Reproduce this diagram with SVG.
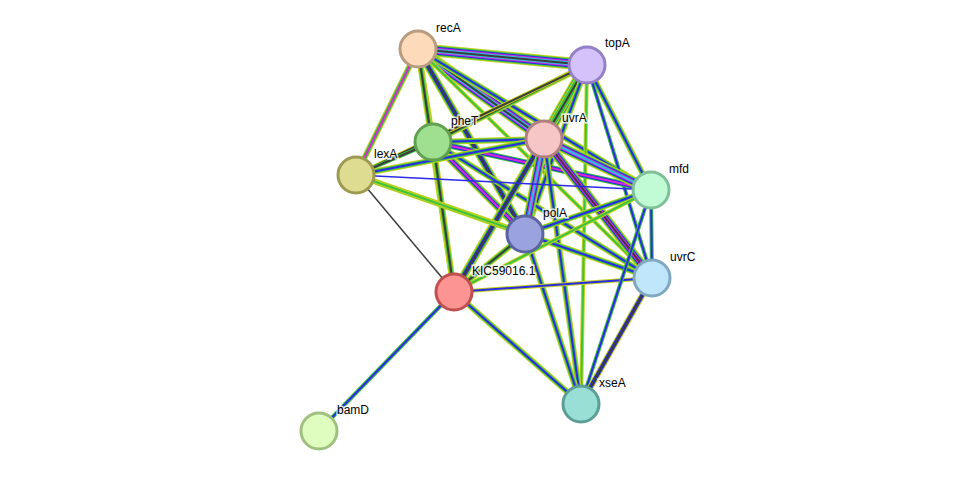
<svg xmlns="http://www.w3.org/2000/svg" width="975" height="477" viewBox="0 0 975 477">
<style>
line{stroke-linecap:butt}
.g{stroke:#3ec33e}.b{stroke:#2a2ae8}.k{stroke:#3c3c3c}.m{stroke:#d828d8}.c{stroke:#28c0e0}.y{stroke:#c4d31e}
.n{stroke-width:3}
text{font-family:"Liberation Sans",Arial,sans-serif;font-size:12px;fill:#000;paint-order:stroke;stroke:#fff;stroke-width:3px;stroke-opacity:0.8}
</style>
<rect width="975" height="477" fill="#fff"/>
<g id="edges">
<!-- recA-topA -->
<g><line x1="418" y1="49" x2="587" y2="65" class="y" stroke-width="12"/><line x1="418" y1="49" x2="587" y2="65" class="g" stroke-width="10"/><line x1="418" y1="49" x2="587" y2="65" class="b" stroke-width="8"/><line x1="418" y1="49" x2="587" y2="65" class="m" stroke-width="6"/><line x1="418" y1="49" x2="587" y2="65" class="c" stroke-width="4"/><line x1="418" y1="49" x2="587" y2="65" class="k" stroke-width="2"/></g>
<!-- recA-pheT -->
<g><line x1="418" y1="49" x2="433" y2="142" class="y" stroke-width="6"/><line x1="418" y1="49" x2="433" y2="142" class="g" stroke-width="4"/><line x1="418" y1="49" x2="433" y2="142" class="k" stroke-width="2"/></g>
<!-- recA-uvrA -->
<g><line x1="418" y1="49" x2="544" y2="139" class="y" stroke-width="12"/><line x1="418" y1="49" x2="544" y2="139" class="g" stroke-width="10"/><line x1="418" y1="49" x2="544" y2="139" class="b" stroke-width="8"/><line x1="418" y1="49" x2="544" y2="139" class="m" stroke-width="6"/><line x1="418" y1="49" x2="544" y2="139" class="c" stroke-width="4"/><line x1="418" y1="49" x2="544" y2="139" class="k" stroke-width="2"/></g>
<!-- recA-lexA -->
<g><line x1="418" y1="49" x2="356" y2="175" class="y" stroke-width="6"/><line x1="418" y1="49" x2="356" y2="175" class="g" stroke-width="4"/><line x1="418" y1="49" x2="356" y2="175" class="m" stroke-width="2"/></g>
<!-- recA-polA -->
<g><line x1="418" y1="49" x2="525" y2="234" class="y" stroke-width="8"/><line x1="418" y1="49" x2="525" y2="234" class="g" stroke-width="6"/><line x1="418" y1="49" x2="525" y2="234" class="b" stroke-width="4"/><line x1="418" y1="49" x2="525" y2="234" class="k" stroke-width="2"/></g>
<!-- recA-KIC -->
<g><line x1="418" y1="49" x2="454" y2="292" class="y" stroke-width="6"/><line x1="418" y1="49" x2="454" y2="292" class="g" stroke-width="4"/><line x1="418" y1="49" x2="454" y2="292" class="k" stroke-width="2"/></g>
<!-- recA-mfd -->
<g><line x1="418" y1="49" x2="651" y2="190" class="y" stroke-width="6"/><line x1="418" y1="49" x2="651" y2="190" class="g" stroke-width="4"/><line x1="418" y1="49" x2="651" y2="190" class="b" stroke-width="2"/></g>
<!-- recA-uvrC -->
<g><line x1="418" y1="49" x2="652" y2="278" class="y" stroke-width="4"/><line x1="418" y1="49" x2="652" y2="278" class="g" stroke-width="2"/></g>
<!-- topA-pheT -->
<g><line x1="587" y1="65" x2="433" y2="142" class="y" stroke-width="6"/><line x1="587" y1="65" x2="433" y2="142" class="g" stroke-width="4"/><line x1="587" y1="65" x2="433" y2="142" class="k" stroke-width="2"/></g>
<!-- topA-uvrA -->
<g><line x1="587" y1="65" x2="544" y2="139" class="y" stroke-width="12"/><line x1="587" y1="65" x2="544" y2="139" class="g" stroke-width="10"/><line x1="587" y1="65" x2="544" y2="139" class="b" stroke-width="8"/><line x1="587" y1="65" x2="544" y2="139" class="m" stroke-width="6"/><line x1="587" y1="65" x2="544" y2="139" class="c" stroke-width="4"/><line x1="587" y1="65" x2="544" y2="139" class="k" stroke-width="2"/></g>
<!-- topA-lexA -->
<g><line x1="587" y1="65" x2="356" y2="175" class="y" stroke-width="4"/><line x1="587" y1="65" x2="356" y2="175" class="k" stroke-width="2"/></g>
<!-- topA-KIC -->
<g><line x1="587" y1="65" x2="454" y2="292" class="y" stroke-width="8"/><line x1="587" y1="65" x2="454" y2="292" class="g" stroke-width="6"/><line x1="587" y1="65" x2="454" y2="292" class="k" stroke-width="2"/></g>
<!-- topA-polA -->
<g><line x1="587" y1="65" x2="525" y2="234" class="y" stroke-width="6"/><line x1="587" y1="65" x2="525" y2="234" class="g" stroke-width="4"/><line x1="587" y1="65" x2="525" y2="234" class="b" stroke-width="2"/></g>
<!-- topA-mfd -->
<g><line x1="587" y1="65" x2="651" y2="190" class="y" stroke-width="6"/><line x1="587" y1="65" x2="651" y2="190" class="g" stroke-width="4"/><line x1="587" y1="65" x2="651" y2="190" class="b" stroke-width="2"/></g>
<!-- topA-uvrC -->
<g><line x1="587" y1="65" x2="652" y2="278" class="g" stroke-width="4"/><line x1="587" y1="65" x2="652" y2="278" class="b" stroke-width="2"/></g>
<!-- topA-xseA -->
<g><line x1="587" y1="65" x2="581" y2="404" class="y" stroke-width="4"/><line x1="587" y1="65" x2="581" y2="404" class="g" stroke-width="2"/></g>
<!-- pheT-uvrA -->
<g><line x1="433" y1="142" x2="544" y2="139" class="y" stroke-width="6"/><line x1="433" y1="142" x2="544" y2="139" class="g" stroke-width="4"/><line x1="433" y1="142" x2="544" y2="139" class="b" stroke-width="2"/></g>
<!-- pheT-lexA -->
<g><line x1="433" y1="142" x2="356" y2="175" class="g" stroke-width="4"/><line x1="433" y1="142" x2="356" y2="175" class="k" stroke-width="2"/></g>
<!-- pheT-KIC -->
<g><line x1="433" y1="142" x2="454" y2="292" class="y" stroke-width="6"/><line x1="433" y1="142" x2="454" y2="292" class="g" stroke-width="4"/><line x1="433" y1="142" x2="454" y2="292" class="k" stroke-width="2"/></g>
<!-- pheT-polA -->
<g><line x1="433" y1="142" x2="525" y2="234" class="y" stroke-width="8"/><line x1="433" y1="142" x2="525" y2="234" class="g" stroke-width="6"/><line x1="433" y1="142" x2="525" y2="234" class="b" stroke-width="4"/><line x1="433" y1="142" x2="525" y2="234" class="m" stroke-width="2"/></g>
<!-- pheT-mfd -->
<g><line x1="433" y1="142" x2="651" y2="190" class="g" stroke-width="6"/><line x1="433" y1="142" x2="651" y2="190" class="b" stroke-width="4"/><line x1="433" y1="142" x2="651" y2="190" class="m" stroke-width="2"/></g>
<!-- pheT-uvrC -->
<g><line x1="433" y1="142" x2="652" y2="278" class="y" stroke-width="6"/><line x1="433" y1="142" x2="652" y2="278" class="g" stroke-width="4"/><line x1="433" y1="142" x2="652" y2="278" class="b" stroke-width="2"/></g>
<!-- uvrA-lexA -->
<g><line x1="544" y1="139" x2="356" y2="175" class="y" stroke-width="6"/><line x1="544" y1="139" x2="356" y2="175" class="g" stroke-width="4"/><line x1="544" y1="139" x2="356" y2="175" class="b" stroke-width="2"/></g>
<!-- uvrA-KIC -->
<g><line x1="544" y1="139" x2="454" y2="292" class="y" stroke-width="8"/><line x1="544" y1="139" x2="454" y2="292" class="g" stroke-width="6"/><line x1="544" y1="139" x2="454" y2="292" class="b" stroke-width="4"/><line x1="544" y1="139" x2="454" y2="292" class="k" stroke-width="2"/></g>
<!-- uvrA-polA -->
<g><line x1="544" y1="139" x2="525" y2="234" class="y" stroke-width="10"/><line x1="544" y1="139" x2="525" y2="234" class="g" stroke-width="8"/><line x1="544" y1="139" x2="525" y2="234" class="b" stroke-width="6"/><line x1="544" y1="139" x2="525" y2="234" class="m" stroke-width="4"/><line x1="544" y1="139" x2="525" y2="234" class="c" stroke-width="2"/></g>
<!-- uvrA-mfd -->
<g><line x1="544" y1="139" x2="651" y2="190" class="y" stroke-width="10"/><line x1="544" y1="139" x2="651" y2="190" class="g" stroke-width="8"/><line x1="544" y1="139" x2="651" y2="190" class="b" stroke-width="6"/><line x1="544" y1="139" x2="651" y2="190" class="m" stroke-width="4"/><line x1="544" y1="139" x2="651" y2="190" class="c" stroke-width="2"/></g>
<!-- uvrA-uvrC -->
<g><line x1="544" y1="139" x2="652" y2="278" class="y" stroke-width="10"/><line x1="544" y1="139" x2="652" y2="278" class="g" stroke-width="8"/><line x1="544" y1="139" x2="652" y2="278" class="b" stroke-width="6"/><line x1="544" y1="139" x2="652" y2="278" class="m" stroke-width="4"/><line x1="544" y1="139" x2="652" y2="278" class="k" stroke-width="2"/></g>
<!-- uvrA-xseA -->
<g><line x1="544" y1="139" x2="581" y2="404" class="y" stroke-width="6"/><line x1="544" y1="139" x2="581" y2="404" class="g" stroke-width="4"/><line x1="544" y1="139" x2="581" y2="404" class="b" stroke-width="2"/></g>
<!-- lexA-mfd -->
<g><line x1="356" y1="175" x2="651" y2="190" class="b" stroke-width="1.5"/></g>
<!-- lexA-polA -->
<g><line x1="356" y1="175" x2="525" y2="234" class="y" stroke-width="6"/><line x1="356" y1="175" x2="525" y2="234" class="g" stroke-width="4"/><line x1="356" y1="175" x2="525" y2="234" class="b" stroke-width="2"/></g>
<!-- lexA-KIC -->
<g><line x1="356" y1="175" x2="454" y2="292" class="k" stroke-width="1.5"/></g>
<!-- lexA-uvrC -->
<g><line x1="356" y1="175" x2="652" y2="278" class="y" stroke-width="4"/><line x1="356" y1="175" x2="652" y2="278" class="g" stroke-width="2"/></g>
<!-- polA-KIC -->
<g><line x1="525" y1="234" x2="454" y2="292" class="y" stroke-width="6"/><line x1="525" y1="234" x2="454" y2="292" class="g" stroke-width="4"/><line x1="525" y1="234" x2="454" y2="292" class="k" stroke-width="2"/></g>
<!-- polA-mfd -->
<g><line x1="525" y1="234" x2="651" y2="190" class="y" stroke-width="6"/><line x1="525" y1="234" x2="651" y2="190" class="g" stroke-width="4"/><line x1="525" y1="234" x2="651" y2="190" class="b" stroke-width="2"/></g>
<!-- polA-uvrC -->
<g><line x1="525" y1="234" x2="652" y2="278" class="y" stroke-width="6"/><line x1="525" y1="234" x2="652" y2="278" class="g" stroke-width="4"/><line x1="525" y1="234" x2="652" y2="278" class="b" stroke-width="2"/></g>
<!-- polA-xseA -->
<g><line x1="525" y1="234" x2="581" y2="404" class="y" stroke-width="6"/><line x1="525" y1="234" x2="581" y2="404" class="g" stroke-width="4"/><line x1="525" y1="234" x2="581" y2="404" class="b" stroke-width="2"/></g>
<!-- KIC-uvrC -->
<g><line x1="454" y1="292" x2="652" y2="278" class="y" stroke-width="4"/><line x1="454" y1="292" x2="652" y2="278" class="b" stroke-width="2"/></g>
<!-- KIC-mfd -->
<g><line x1="454" y1="292" x2="651" y2="190" class="y" stroke-width="4"/><line x1="454" y1="292" x2="651" y2="190" class="g" stroke-width="2"/></g>
<!-- KIC-xseA -->
<g><line x1="454" y1="292" x2="581" y2="404" class="y" stroke-width="6"/><line x1="454" y1="292" x2="581" y2="404" class="g" stroke-width="4"/><line x1="454" y1="292" x2="581" y2="404" class="b" stroke-width="2"/></g>
<!-- KIC-bamD -->
<g><line x1="454" y1="292" x2="319" y2="431" class="g" stroke-width="4"/><line x1="454" y1="292" x2="319" y2="431" class="b" stroke-width="2"/></g>
<!-- mfd-uvrC -->
<g><line x1="651" y1="190" x2="652" y2="278" class="g" stroke-width="4"/><line x1="651" y1="190" x2="652" y2="278" class="b" stroke-width="2"/></g>
<!-- mfd-xseA -->
<g><line x1="651" y1="190" x2="581" y2="404" class="g" stroke-width="4"/><line x1="651" y1="190" x2="581" y2="404" class="b" stroke-width="2"/></g>
<!-- uvrC-xseA -->
<g><line x1="652" y1="278" x2="581" y2="404" class="y" stroke-width="6"/><line x1="652" y1="278" x2="581" y2="404" class="b" stroke-width="4"/><line x1="652" y1="278" x2="581" y2="404" class="k" stroke-width="2"/></g>
</g>
<g id="recA"><circle cx="418" cy="49" r="18" fill="#fddab9" stroke="#b89c80" class="n"/><text x="436" y="32">recA</text></g>
<g id="topA"><circle cx="587" cy="65" r="18" fill="#d4c2fb" stroke="#9480c4" class="n"/><text x="605" y="47">topA</text></g>
<g id="pheT"><circle cx="433" cy="142" r="18" fill="#9fdf90" stroke="#60a050" class="n"/><text x="451" y="125">pheT</text></g>
<g id="uvrA"><circle cx="544" cy="139" r="18" fill="#f6c6c6" stroke="#b08080" class="n"/><text x="562" y="122">uvrA</text></g>
<g id="lexA"><circle cx="356" cy="175" r="18" fill="#dedc90" stroke="#9c9a50" class="n"/><text x="374" y="158">lexA</text></g>
<g id="mfd"><circle cx="651" cy="190" r="18" fill="#c0fbd6" stroke="#80c098" class="n"/><text x="669" y="173">mfd</text></g>
<g id="polA"><circle cx="525" cy="234" r="18" fill="#9aa3dd" stroke="#5a64a0" class="n"/><text x="543" y="217">polA</text></g>
<g id="uvrC"><circle cx="652" cy="278" r="18" fill="#c0e6fb" stroke="#80a8c0" class="n"/><text x="670" y="261">uvrC</text></g>
<g id="KIC59016.1"><circle cx="454" cy="292" r="18" fill="#fc9494" stroke="#c05050" class="n"/><text x="472" y="275">KIC59016.1</text></g>
<g id="xseA"><circle cx="581" cy="404" r="18" fill="#99dfd5" stroke="#5a9e96" class="n"/><text x="599" y="387">xseA</text></g>
<g id="bamD"><circle cx="319" cy="431" r="18" fill="#e0fdc0" stroke="#a0c080" class="n"/><text x="337" y="414">bamD</text></g>
</svg>
